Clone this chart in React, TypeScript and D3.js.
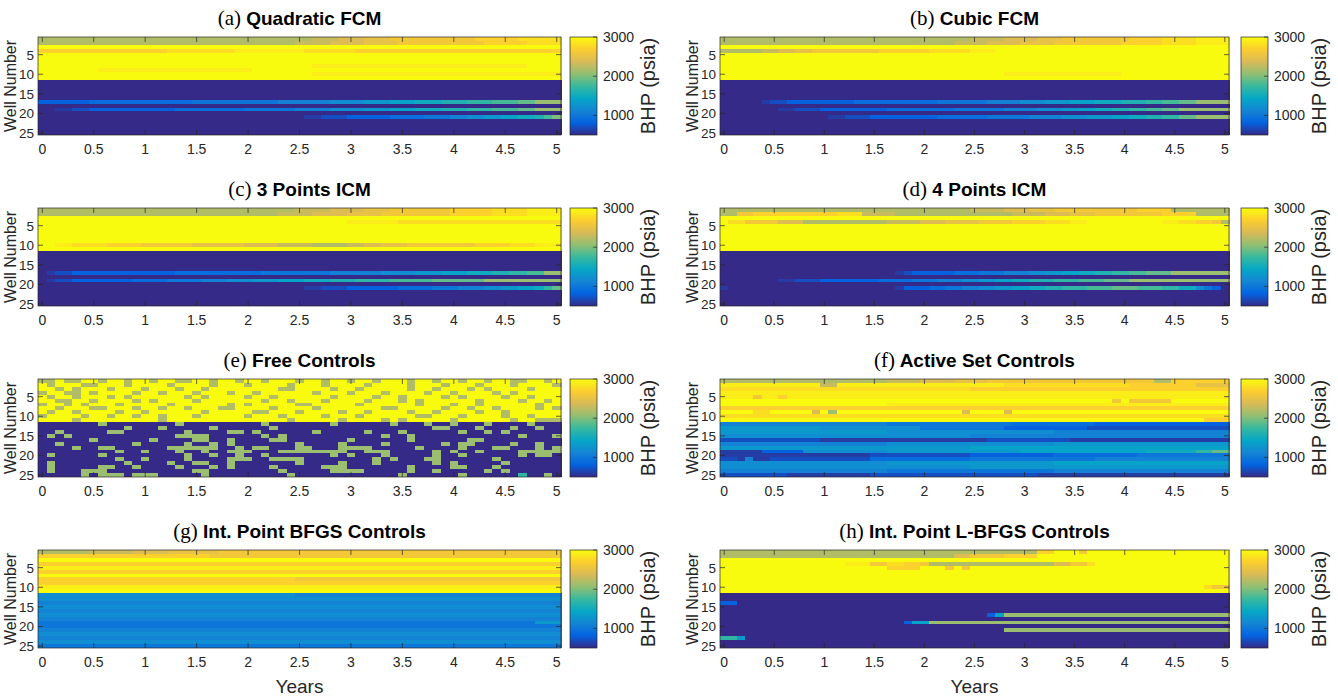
import React from "react";
import * as d3 from "d3";

const width = 1338;
const height = 698;

// value codes used in the row strings: a = 500 psia ... z = 3000 psia
const levelCodes = "abcdefghijklmnopqrstuvwxyz";
const levelValues = [
  500, 600, 700, 800, 900, 1000, 1100, 1200, 1300, 1400, 1500, 1600, 1700,
  1800, 1900, 2000, 2100, 2200, 2300, 2400, 2500, 2600, 2700, 2800, 2900, 3000,
];

const parulaStops = [
  "#352a87", "#0363e1", "#1485d4", "#06a7c6", "#38b99e",
  "#92bf73", "#d9ba56", "#fcce2e", "#f9fb0e",
];
const bhpRange = [500, 3000];

const wells = [
  1, 2, 3, 4, 5, 6, 7, 8, 9, 10, 11, 12, 13, 14, 15, 16, 17, 18, 19, 20, 21,
  22, 23, 24, 25,
];
const stepsPerYear = 12;
const xTicks = [0, 0.5, 1, 1.5, 2, 2.5, 3, 3.5, 4, 4.5, 5];
const yTicks = [5, 10, 15, 20, 25];
const cbTicks = [1000, 2000, 3000];

// each row: run tokens "z61" (code x count) or literal code groups
const quadraticFCM = [
  "r32 s3 t3 u3 v10 w5 x5",
  "r30 s4 t4 u4 v10 w5 x4",
  "z61",
  "w15 x8 y8 x6 w24",
  "z61", "z61", "z61",
  "z32 y25 z4",
  "z7 y18 z36",
  "z32 y29",
  "z61",
  "a61", "a61", "a61", "a61", "a61",
  "d6 e12 f10 g6 h4 i3 j3 k3 l3 m3 n3 o2 q3",
  "a61",
  "a2 b2 c2 d10 e8 f6 g4 h4 i3 j3 k3 l3 m3 n3 o2 q3",
  "a61",
  "a31 b2 c3 d5 e4 f3 g2 h2 i2 j2 k2 l1 n1 p1",
  "a61", "a61", "a61", "a61",
];

const cubicFCM = [
  "r30 s4 t4 u3 v8 w4 x4 y4",
  "r28 s4 t4 u4 v8 w5 x4 y4",
  "z61",
  "r5 s2 t2 u2 v8 w6 x5 y3 z28",
  "z61", "z61", "z61", "z61", "z61",
  "z34 y14 z13",
  "z61",
  "a61", "a61", "a61", "a61", "a61",
  "a5 b1 c2 d8 e10 f6 g4 h3 i3 j3 k3 l3 m2 n2 o2 q4",
  "a61",
  "a7 b2 c3 d8 e8 f6 g4 h3 i2 j2 k2 l2 m2 n2 o2 q6",
  "a61",
  "a13 b2 c3 d8 e6 f5 g4 h3 i3 j2 k2 l2 m2 o2 q4",
  "a61", "a61", "a61", "a61",
];

const threePointICM = [
  "r30 s4 t4 u3 v7 w5 x4 y4",
  "r28 s4 t4 u4 v8 w5 x4 y4",
  "z61",
  "z36 y6 x19",
  "z61", "z61", "z61", "z61", "z61",
  "z2 y2 x4 w4 v6 u6 t4 s4 r4 s2 t2 u3 v8 w4 x3 y3",
  "z61",
  "a61", "a61", "a61", "a61", "a61",
  "a1 b1 c2 d12 e10 f8 g6 h4 i3 j3 k3 l2 m2 n2 q2",
  "a61",
  "a1 b1 c2 d7 e4 f4 g3 h3 i3 j3 k3 l3 m4 n5 o6 q9",
  "a61",
  "a31 b2 c3 d6 e4 f3 g3 h2 i2 j2 k1 m1 o1",
  "a61", "a61", "a61", "a61",
];

const fourPointICM = [
  "r30 s4 t3 u3 v10 w4 r7",
  "r2 v2 w10 x3 s4 r14 s4 t3 u3 v8 w4 r4",
  "z61",
  "z1 x2 v4 t3 r10 s4 t3 u4 v4 w4 x3 y2 z9 y2 x2 w2 v1 r1",
  "z61", "z61", "z61", "z61", "z61", "z61", "z61",
  "a61", "a61", "a61", "a61", "a61",
  "a21 b1 c1 d5 e3 f3 g3 h2 i2 j2 k2 l2 m2 n2 o3 q7",
  "a61",
  "a7 b2 c3 d7 e4 f3 g3 h2 i2 j2 k2 l3 m3 n3 o3 q12",
  "a61",
  "b1 a20 b1 d3 e2 f2 g2 h2 i2 j2 k2 l2 m3 n3 o3 n3 m2 k2 h1 f1 d1 a1",
  "a61", "a61", "a61", "a61",
];

const freeControls = [
  "rrzrrzzrzzrz zrzzrrzzrzzr zzrzzzrzzrzz rzzrzzzrzzrz zrzzrzzrrzzr z",
  "zrzzzrrzzzrz zzzrzzzzrzzz rzzzzrzzzrzz zzrzzzzrzzzr zzzrzzzrzzzz r",
  "zzrzrzzzrzzz rzzzrzzrzzzz zzzzrrzzzzrz zrzzzzzrzzrz zzrzrzzzzrzz z",
  "rzzrrzrzzzzr zzrzzzrzzzrz zrzzzzzzrzzz rzzzrzzzzrzz rzzzzrzrzzzz z",
  "zrzzrzzzrzrz zzzzzrzrzzzz rzzrzzzzzzrz zzzrzzrzzzzr zrzzzzrzzrzz z",
  "zzrrzzrzzzzr zrzzzzrzzzzz zzrzzrzzzrzz zzrzzzrzrzzz zzzrzzzzrzzr z",
  "rzzrzrzzzrzz zzzrzzzzzzrz rzzzzzrrzzzz zrzzzzzzrzzz rzzrzzzzzzrz z",
  "zzrzzzrrzzzr zzrzzrzzzrrz zzzrzzzzrzzz zzzzrrzzzzzr zzrzzrzzzzrz r",
  "zrzzrzzzzrzz rzzzzzzrzzzz zrrzzzrzzzzr zzrzzzzrzzrz zzzrzzrzzzzz z",
  "rzzzzrzzrzzr zzrzzzrzzzzz rzzzrzzzzrzz zrzzzzzzrrzz zrzzzzrzzrzz z",
  "zzzzrzzzzzzz zzrzzzzzzzzz zzzzzrzzzzzr zzzzrzrzzzzz rzzzzzzrzzrr r",
  "aaaaaaaqaaaa aaaaqaaaaaaa aaqaaaaaaaqa aaaaaqaaaqaa qaaaqaaaaqaa a",
  "aaaaaaaaaaqa aaqaaaaaqaaa aaaqaaaaaaaa aaaaaaaaaaqq aaaqaaaqaaqa a",
  "aaqaaaaaqqaa aaaaaqaaaaqq aqaaaaaaqaaa aaqaaaqaaaaa aqaaqaqaaaaa a",
  "aqaqaaaaaaaa aaaaqqqqaaaa aaqaqaaaaaaa aaaaqaaqaaaa aaaaaaaaqaaa q",
  "aaaaaaqaaaaa aqaaaaqqaaqa aaaqqaaaaaaa qaaaaaaqaaaa aaqqaaaaaaaa a",
  "aaqaaaaaaaaq aaaaaqaaqaqa aaaaaaqaaaaq aaaaqaaaaaaq aqqaaaaqaaqa a",
  "aaaaqaaqqaaa aaaqqqqqqaaq aqqaaaqqaaaq qqqaaaaaqaaa aqaaaqqaaaqa q",
  "aaaaaaaaaqaa qaaaqaaqaaqq qaaaqqqqqqqq aaqqqaaaaaqa qaaqaaaaqqqq q",
  "aqaaaaaqaaaa aaaaaqaaqaaq aaqaaaaaaaqa qaaaqaaaaaqa aqaaaaaaqaqq a",
  "aaaaaaaaaqaa qaaaaqaaaaqq qaaqqqqaaaaa aaaqaqaaaqqa aaaaaqaaaaaa a",
  "aqaaaaaaaaqa aaaqaaqqaaqa aaaaaaqaaaaq aaaqaaaaaaqa qaaaaaqaaaaa a",
  "aqaaaaaqqaaq aaaaqaaaqaqa aaaqaaaaaqqq aaaaaaaqaaaa qqaaaqaaaaaa a",
  "aqaaaqqqaaaa aaaaaaqqaaaa aaaaqaaaaaqq qqaaaaaqaaqa aaaaqaqaaaaa a",
  "aaaaaqaqqqaq qqaaaaaqaaaa aaaaaqaaaaaa aaaaaaqaaaaa aqaaaaaamaaq a",
];

const activeSetControls = [
  "r20 s4 t4 u4 v20 r2 w7",
  "y12 s2 y20 x15 w8 u4",
  "x30 w31",
  "y61",
  "y4 v1 y2 w1 y53",
  "z47 v1 z1 v5 z7",
  "z20 y41",
  "w61",
  "z4 x2 z5 t1 z1 q1 z15 t1 z4 t1 z26",
  "x61",
  "z58 w3",
  "g20 f15 e10 d16",
  "i12 h12 f10 d10 c17",
  "i20 h20 g21",
  "h30 g31",
  "c12 b20 c10 b19",
  "g20 h20 i21",
  "i30 j31",
  "b5 d5 h10 i16 j15 k6 m2 o2",
  "b18 c12 d10 e10 f11",
  "c2 b1 g1 b2 c12 e12 f15 g16",
  "h20 i20 j21",
  "h30 i31",
  "g20 f20 g21",
  "c8 b10 c20 b23",
];

const bfgsControls = [
  "r6 s5 t4 u6 v40",
  "w20 v41",
  "z61",
  "w61",
  "y61",
  "w61",
  "z61",
  "w30 v31",
  "w61",
  "y61",
  "z61",
  "h30 g31",
  "h61", "g61", "h61", "g61", "h61", "g61",
  "f58 i3",
  "f61", "g61", "h61", "g61", "h61", "f61",
];

const lbfgsControls = [
  "r38 w2 z3 v1 z17",
  "r28 t2 v4 w4 z23",
  "z61",
  "z15 y3 v2 x2 w2 v1 r15 t2 v2 x1 z16",
  "z20 w4 z3 v1 z1 v1 z31",
  "z61", "z61", "z61", "z61",
  "z58 x1 v2",
  "z61",
  "a61", "a61",
  "d2 a59",
  "a61", "a61",
  "a32 d1 j1 q27",
  "a61",
  "a22 d1 j2 q36",
  "a61",
  "a34 q27",
  "a61",
  "m2 i1 a58",
  "a61", "a61",
];

const panels = [
  { tag: "(a)", name: "Quadratic FCM", rows: quadraticFCM },
  { tag: "(b)", name: "Cubic FCM", rows: cubicFCM },
  { tag: "(c)", name: "3 Points ICM", rows: threePointICM },
  { tag: "(d)", name: "4 Points ICM", rows: fourPointICM },
  { tag: "(e)", name: "Free Controls", rows: freeControls },
  { tag: "(f)", name: "Active Set Controls", rows: activeSetControls },
  { tag: "(g)", name: "Int. Point BFGS Controls", rows: bfgsControls },
  { tag: "(h)", name: "Int. Point L-BFGS Controls", rows: lbfgsControls },
];

const decodeRow = (row: string): number[] => {
  const out: number[] = [];
  row.trim().split(/\s+/).forEach((tok) => {
    const m = /^([a-z])(\d+)$/.exec(tok);
    if (m) {
      const v = levelValues[levelCodes.indexOf(m[1])];
      for (let i = 0; i < +m[2]; i++) out.push(v);
    } else {
      for (const c of tok) out.push(levelValues[levelCodes.indexOf(c)]);
    }
  });
  return out;
};

const color = d3
  .scaleLinear<string>()
  .domain(parulaStops.map((_, i) => bhpRange[0] + (i * (bhpRange[1] - bhpRange[0])) / (parulaStops.length - 1)))
  .range(parulaStops)
  .clamp(true);

const columns = [
  { left: 38, plotW: 523, cbX: 570, cbW: 27 },
  { left: 720, plotW: 509, cbX: 1241, cbW: 27 },
];
const rowTops = [37, 208, 379, 550];
const plotH = 98;
const ink = "#262626";
const sans = "'Liberation Sans', Arial, sans-serif";

const Panel = ({ panel, col, top, showYears }: any) => {
  const { left, plotW, cbX, cbW } = col;
  const half = 0.5 / stepsPerYear;
  const x = d3.scaleLinear().domain([-half, 5 + half]).range([left, left + plotW]);
  const y = d3.scaleLinear().domain([0.5, 25.5]).range([top, top + plotH]);
  const cb = d3.scaleLinear().domain(bhpRange).range([top + plotH, top]);

  const runs: any[] = [];
  panel.rows.map(decodeRow).forEach((vals: number[], r: number) => {
    let s = 0;
    for (let k = 1; k <= vals.length; k++) {
      if (k === vals.length || vals[k] !== vals[s]) {
        runs.push({ well: wells[r], k0: s, k1: k - 1, v: vals[s] });
        s = k;
      }
    }
  });

  const cx = left + plotW / 2;
  return (
    <g>
      <text x={cx} y={top - 12} textAnchor="middle" fill="#000">
        <tspan fontFamily="'Liberation Serif', serif" fontSize={21}>{panel.tag}</tspan>
        <tspan fontFamily={sans} fontWeight="bold" fontSize={19}>{" " + panel.name}</tspan>
      </text>

      <g shapeRendering="crispEdges">
        {runs.map((d, i) => {
          const x0 = x(d.k0 / stepsPerYear - half);
          const x1 = x(d.k1 / stepsPerYear + half);
          const y0 = y(d.well - 0.5);
          const y1 = y(d.well + 0.5);
          const last = d.well === wells[wells.length - 1];
          return (
            <rect key={i} x={x0} y={y0} width={x1 - x0 + 0.6} height={y1 - y0 + (last ? 0 : 0.8)}
              fill={color(d.v)} />
          );
        })}
      </g>
      <rect x={left} y={top} width={plotW} height={plotH} fill="none" stroke={ink} strokeWidth={0.7} />

      {xTicks.map((t) => (
        <g key={t}>
          <line x1={x(t)} x2={x(t)} y1={top} y2={top + 5} stroke={ink} strokeWidth={0.7} />
          <line x1={x(t)} x2={x(t)} y1={top + plotH} y2={top + plotH - 5} stroke={ink} strokeWidth={0.7} />
          <text x={x(t)} y={top + plotH + 19} textAnchor="middle" fontFamily={sans} fontSize={14} fill={ink}>
            {t}
          </text>
        </g>
      ))}
      {yTicks.map((t) => (
        <g key={t}>
          <line x1={left} x2={left + 5} y1={y(t)} y2={y(t)} stroke={ink} strokeWidth={0.7} />
          <line x1={left + plotW} x2={left + plotW - 5} y1={y(t)} y2={y(t)} stroke={ink} strokeWidth={0.7} />
          <text x={left - 4} y={y(t)} dy="0.36em" textAnchor="end" fontFamily={sans} fontSize={13.5} fill={ink}>
            {t}
          </text>
        </g>
      ))}
      <text transform={`translate(${left - 28},${top + plotH / 2}) rotate(-90)`} textAnchor="middle"
        dy="0.35em" fontFamily={sans} fontSize={16} fill={ink}>
        Well Number
      </text>

      <rect x={cbX} y={top} width={cbW} height={plotH} fill="url(#parula)" stroke={ink} strokeWidth={0.7} />
      {cbTicks.map((t) => (
        <g key={t}>
          <line x1={cbX + cbW - 4} x2={cbX + cbW} y1={cb(t)} y2={cb(t)} stroke={ink} strokeWidth={0.7} />
          <text x={cbX + cbW + 6} y={cb(t)} dy="0.36em" fontFamily={sans} fontSize={14} fill={ink}>
            {t}
          </text>
        </g>
      ))}
      <text transform={`translate(${cbX + cbW + 51},${top + plotH / 2}) rotate(-90)`} textAnchor="middle"
        dy="0.35em" fontFamily={sans} fontSize={20} fill={ink}>
        BHP (psia)
      </text>

      {showYears && (
        <text x={cx} y={693} textAnchor="middle" fontFamily={sans} fontSize={19} fill={ink}>
          Years
        </text>
      )}
    </g>
  );
};

const App = () => {
  return (
    <svg width={width} height={height} style={{ position: "absolute", left: 0, top: 0, background: "#fff" }}>
      <defs>
        <linearGradient id="parula" x1="0" y1="1" x2="0" y2="0">
          {parulaStops.map((c, i) => (
            <stop key={i} offset={i / (parulaStops.length - 1)} stopColor={c} />
          ))}
        </linearGradient>
      </defs>
      {panels.map((p, i) => (
        <Panel key={p.tag} panel={p} col={columns[i % 2]} top={rowTops[Math.floor(i / 2)]}
          showYears={i >= 6} />
      ))}
    </svg>
  );
};

export default App;
